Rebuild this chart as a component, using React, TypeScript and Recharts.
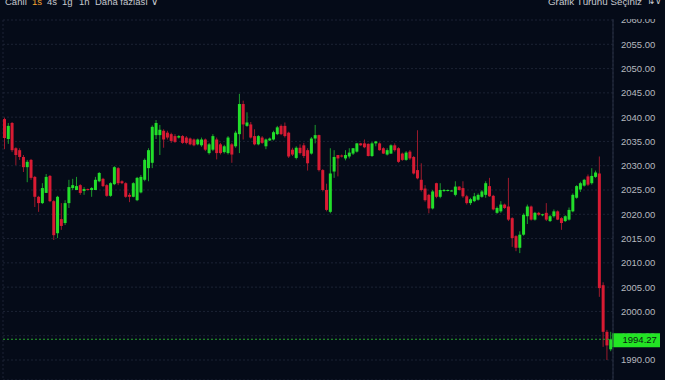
import React from 'react';
import { ComposedChart, Bar, XAxis, YAxis, CartesianGrid, ReferenceLine } from 'recharts';

const opens = [
  2039.6, 2035.5, 2038.8, 2033.6, 2033.2, 2031.8, 2029.7, 2031.2, 2027.7, 2023.6,
  2022.3, 2024.4, 2027.9, 2022.7, 2016.1, 2019.0, 2018.2, 2022.3, 2025.4, 2025.0,
  2026.0, 2024.8, 2025.2, 2025.0, 2025.0, 2026.8, 2027.3, 2026.0, 2023.8, 2026.2,
  2029.5, 2026.8, 2026.4, 2024.0, 2023.6, 2022.9, 2024.5, 2027.1, 2029.5, 2030.6,
  2036.3, 2036.3, 2037.2, 2036.8, 2036.5, 2036.1, 2035.8, 2036.1, 2035.8, 2035.6,
  2035.4, 2034.4, 2034.2, 2035.4, 2032.6, 2033.3, 2035.4, 2034.4, 2032.8, 2032.6,
  2034.4, 2034.0, 2036.5, 2042.7, 2038.2, 2038.5, 2036.1, 2034.4, 2035.8, 2034.0,
  2035.2, 2035.4, 2036.5, 2038.2, 2038.2, 2036.8, 2033.3, 2031.6, 2033.7, 2034.2,
  2033.2, 2032.5, 2035.6, 2036.3, 2029.1, 2025.0, 2020.5, 2028.8, 2032.2, 2032.1,
  2031.5, 2031.9, 2032.5, 2032.9, 2034.6, 2034.6, 2034.5, 2032.0, 2034.6, 2034.6,
  2033.6, 2032.3, 2032.5, 2034.2, 2033.6, 2032.5, 2031.2, 2032.9, 2031.8, 2029.1,
  2027.1, 2025.3, 2024.0, 2021.2, 2026.4, 2023.6, 2024.8, 2024.8, 2024.8, 2024.0,
  2025.7, 2025.4, 2023.7, 2022.3, 2022.7, 2023.0, 2023.6, 2024.0, 2025.8, 2023.8,
  2020.3, 2020.6, 2022.0, 2021.6, 2019.2, 2015.5, 2013.1, 2015.8, 2019.6, 2021.6,
  2018.9, 2020.3, 2019.8, 2020.3, 2018.6, 2019.6, 2020.6, 2019.2, 2018.6, 2018.9,
  2020.6, 2023.4, 2025.1, 2025.9, 2027.8, 2026.4, 2027.7, 2028.4, 2005.4, 1995.8,
  1992.2,
];

const highs = [
  2039.9, 2038.8, 2039.0, 2033.8, 2033.6, 2032.2, 2031.2, 2031.4, 2027.9, 2023.8,
  2026.4, 2028.3, 2028.1, 2022.9, 2023.8, 2022.3, 2022.9, 2027.1, 2027.3, 2027.7,
  2026.2, 2025.6, 2025.3, 2025.6, 2027.7, 2028.7, 2027.5, 2026.2, 2026.6, 2029.9,
  2029.7, 2027.0, 2026.6, 2024.4, 2026.6, 2027.7, 2028.1, 2031.5, 2033.6, 2038.3,
  2039.4, 2038.4, 2037.5, 2037.2, 2036.8, 2036.5, 2036.3, 2036.3, 2036.1, 2035.8,
  2035.6, 2035.6, 2035.8, 2035.6, 2034.7, 2036.5, 2035.8, 2034.7, 2034.3, 2036.1,
  2034.7, 2037.2, 2044.8, 2043.4, 2041.0, 2039.0, 2037.5, 2036.3, 2036.1, 2035.6,
  2035.8, 2037.2, 2038.2, 2038.5, 2038.9, 2037.0, 2033.7, 2034.0, 2034.4, 2034.7,
  2033.6, 2035.9, 2038.4, 2036.4, 2029.3, 2026.3, 2033.6, 2033.2, 2032.2, 2032.3,
  2033.2, 2033.6, 2033.6, 2034.7, 2034.7, 2035.4, 2034.6, 2034.9, 2035.1, 2034.8,
  2033.8, 2033.6, 2034.4, 2034.6, 2033.8, 2032.7, 2033.0, 2033.2, 2032.0, 2037.3,
  2030.5, 2026.0, 2024.2, 2025.0, 2026.5, 2026.4, 2025.2, 2025.1, 2025.0, 2026.8,
  2025.8, 2026.8, 2024.0, 2023.4, 2024.4, 2024.3, 2025.0, 2026.8, 2027.5, 2024.0,
  2021.6, 2022.7, 2022.2, 2027.5, 2019.4, 2015.7, 2016.5, 2020.2, 2022.0, 2021.8,
  2020.5, 2020.5, 2020.1, 2022.3, 2019.9, 2021.0, 2020.8, 2019.4, 2019.8, 2021.4,
  2024.3, 2026.0, 2026.7, 2027.3, 2028.2, 2029.5, 2029.0, 2031.9, 2006.0, 1996.2,
  1995.8,
];

const lows = [
  2033.4, 2034.5, 2032.8, 2030.1, 2031.2, 2028.7, 2026.6, 2027.1, 2021.5, 2020.5,
  2022.1, 2024.4, 2022.5, 2014.7, 2015.1, 2016.8, 2017.8, 2021.3, 2025.0, 2025.0,
  2024.0, 2024.0, 2024.9, 2023.6, 2025.0, 2026.6, 2025.6, 2023.6, 2023.6, 2026.0,
  2026.0, 2026.2, 2023.4, 2022.5, 2023.5, 2022.7, 2024.3, 2026.8, 2026.8, 2029.5,
  2035.5, 2032.2, 2033.7, 2035.4, 2034.7, 2034.7, 2035.6, 2034.5, 2034.4, 2034.2,
  2034.0, 2034.2, 2033.9, 2033.0, 2032.3, 2033.0, 2031.3, 2032.3, 2032.5, 2032.3,
  2030.6, 2033.7, 2032.6, 2035.4, 2038.0, 2035.6, 2034.2, 2034.2, 2034.5, 2033.4,
  2035.1, 2035.2, 2036.3, 2036.3, 2035.8, 2031.6, 2032.0, 2031.3, 2032.3, 2031.6,
  2029.0, 2032.3, 2034.6, 2028.8, 2024.7, 2020.6, 2020.2, 2027.5, 2027.8, 2031.7,
  2031.1, 2031.5, 2032.2, 2032.7, 2034.1, 2033.6, 2031.9, 2031.8, 2034.0, 2033.1,
  2032.4, 2032.1, 2032.4, 2032.9, 2030.6, 2031.0, 2031.0, 2031.2, 2028.2, 2027.2,
  2024.7, 2022.6, 2020.2, 2021.0, 2023.3, 2023.3, 2024.6, 2024.7, 2024.7, 2023.7,
  2024.9, 2023.4, 2022.0, 2021.9, 2022.5, 2022.8, 2023.4, 2023.4, 2023.6, 2020.8,
  2020.1, 2020.3, 2021.1, 2018.6, 2013.3, 2012.4, 2012.0, 2015.6, 2018.0, 2018.7,
  2018.7, 2019.7, 2019.6, 2018.6, 2018.4, 2019.3, 2018.8, 2016.8, 2018.4, 2018.7,
  2020.4, 2023.2, 2024.6, 2025.7, 2025.8, 2026.1, 2027.5, 2003.0, 1992.7, 1990.0,
  1991.8,
];

const closes = [
  2035.7, 2038.2, 2033.2, 2032.2, 2031.8, 2029.7, 2030.8, 2027.5, 2023.6, 2022.3,
  2025.4, 2027.7, 2022.7, 2015.7, 2023.6, 2017.6, 2022.3, 2025.6, 2026.0, 2025.8,
  2024.4, 2025.2, 2025.0, 2025.4, 2027.1, 2028.5, 2025.8, 2023.8, 2026.4, 2029.7,
  2026.4, 2026.4, 2023.6, 2023.6, 2026.4, 2027.5, 2027.7, 2031.2, 2033.2, 2038.0,
  2038.8, 2037.4, 2035.4, 2035.8, 2035.1, 2034.9, 2036.1, 2034.7, 2034.7, 2034.4,
  2034.2, 2035.4, 2035.4, 2033.3, 2034.4, 2036.1, 2032.6, 2032.6, 2034.0, 2035.8,
  2032.3, 2036.8, 2042.7, 2038.5, 2038.9, 2035.8, 2034.4, 2036.1, 2034.7, 2035.4,
  2035.6, 2036.9, 2037.9, 2036.5, 2036.1, 2031.9, 2032.3, 2033.7, 2032.6, 2032.0,
  2030.5, 2035.6, 2036.3, 2029.1, 2025.0, 2020.9, 2028.4, 2031.8, 2031.5, 2031.9,
  2032.2, 2032.7, 2033.6, 2034.6, 2034.2, 2033.8, 2032.0, 2034.6, 2035.0, 2033.2,
  2032.5, 2033.2, 2034.2, 2033.2, 2030.8, 2031.2, 2032.7, 2031.5, 2028.4, 2027.4,
  2025.0, 2022.9, 2021.2, 2024.7, 2023.6, 2025.0, 2025.0, 2025.0, 2024.9, 2025.7,
  2025.0, 2023.7, 2022.3, 2023.1, 2023.7, 2024.0, 2024.7, 2026.4, 2023.7, 2021.0,
  2021.3, 2022.0, 2021.3, 2018.9, 2015.1, 2013.1, 2015.8, 2019.9, 2021.6, 2018.9,
  2020.3, 2019.9, 2020.0, 2018.9, 2019.6, 2020.6, 2018.9, 2018.2, 2019.6, 2020.9,
  2024.0, 2025.8, 2026.4, 2027.1, 2026.1, 2027.9, 2028.6, 2004.8, 1995.8, 1993.0,
  1994.27,
];

const yTicks = [1990, 1995, 2000, 2005, 2010, 2015, 2020, 2025, 2030, 2035, 2040, 2045, 2050, 2055, 2060];
const gridTicks = [20.9, 44.95, 69, 93.05, 117.1, 141.1, 159.2];
const lastPrice = 1994.27;
const leftMenu = ['Canlı', '1s', '4s', '1g', '1h', 'Daha fazlası'];
const rightMenu = 'Grafik Türünü Seçiniz';

const Y_MIN = 1985.88;
const Y_MAX = 2064.12;
const CHART_W = 665;
const CHART_H = 380;

const data = opens.map((o, i) => ({
  i,
  open: o,
  high: highs[i],
  low: lows[i],
  close: closes[i],
  range: [lows[i], highs[i]],
}));

const BG = '#050b18';
const UP = '#22de2a';
const DOWN = '#d81b33';
const UP_WICK = '#1c9a2c';
const DOWN_WICK = '#9c1a2c';
const FONT = 'Liberation Sans, Arial, sans-serif';

const Candle = (props: any) => {
  const { x, y, width, height, payload } = props;
  if (!payload) return null;
  const { open, close, high, low } = payload;
  const top = Math.min(y, y + height);
  const h = Math.abs(height);
  const ratio = high - low > 0 ? h / (high - low) : 0;
  const yOf = (v: number) => top + (high - v) * ratio;
  const cx = x + width / 2;
  const up = close >= open;
  const bTop = yOf(Math.max(open, close));
  const bBot = yOf(Math.min(open, close));
  return (
    <g>
      <line x1={cx} x2={cx} y1={top} y2={top + h} stroke={up ? UP_WICK : DOWN_WICK} strokeWidth={1} />
      <rect x={cx - 1.5} y={bTop} width={3} height={Math.max(1, bBot - bTop)} fill={up ? UP : DOWN} />
    </g>
  );
};

const TAG_ABOVE = 6;
const TAG_H = 14;

const PriceTag = (props: any) => {
  const vb = props.viewBox || {};
  const x = (vb.x || 0) + (vb.width || 0);
  const y = vb.y || 0;
  return (
    <g>
      <rect x={x - 1} y={y - TAG_ABOVE} width={48} height={TAG_H} fill="#23e524" />
      <text x={x + 9.5} y={y + 4.2} fontSize={9.5} fill="#0a1a12" fontFamily={FONT}>
        {lastPrice.toFixed(2)}
      </text>
    </g>
  );
};

const AxisTick = (props: any) => {
  const { x, y, payload } = props;
  const v: number = payload.value;
  const pxPerUnit = CHART_H / (Y_MAX - Y_MIN);
  const tagTop = y + (v - lastPrice) * pxPerUnit - TAG_ABOVE;
  const covered = y + 5 > tagTop && y - 5 < tagTop + TAG_H;
  const id = `tick-clip-${v}`;
  return (
    <g>
      {covered && (
        <defs>
          <clipPath id={id}>
            <rect x={x - 5} y={y - 20} width={80} height={Math.max(0, tagTop - (y - 20))} />
          </clipPath>
        </defs>
      )}
      <text
        x={x}
        y={y}
        dy="0.355em"
        textAnchor="start"
        fill="#b5b8bf"
        fontSize={9.5}
        fontFamily={FONT}
        clipPath={covered ? `url(#${id})` : undefined}
      >
        {v.toFixed(2)}
      </text>
    </g>
  );
};

const menuStyle: React.CSSProperties = {
  position: 'absolute',
  top: -4,
  fontSize: 9.5,
  lineHeight: '11px',
  fontFamily: FONT,
  color: '#c6c9cf',
  whiteSpace: 'nowrap',
};

const leftPos = [5, 32, 47, 62, 79, 95];

export default function App() {
  return (
    <div style={{ position: 'fixed', left: 0, top: 0, width: 675, height: 380, background: '#ffffff', overflow: 'hidden' }}>
      <div style={{ position: 'absolute', left: 0, top: 0, width: CHART_W, height: CHART_H, background: BG }}>
        <ComposedChart
          width={CHART_W}
          height={CHART_H}
          data={data}
          margin={{ top: 0, right: 0, bottom: 0, left: 3 }}
        >
          <CartesianGrid stroke="#1c2334" strokeDasharray="2 2" horizontal={true} vertical={true} />
          <XAxis
            type="number"
            dataKey="i"
            domain={[-0.5, 160.5]}
            ticks={gridTicks}
            height={0}
            tick={false}
            axisLine={false}
            tickLine={false}
            allowDataOverflow
          />
          <YAxis
            orientation="right"
            width={52}
            domain={[Y_MIN, Y_MAX]}
            ticks={yTicks}
            allowDataOverflow
            interval={0}
            tickLine={false}
            axisLine={{ stroke: '#283042' }}
            tick={<AxisTick />}
          />
          <Bar dataKey="range" barSize={3} shape={<Candle />} isAnimationActive={false} />
          <ReferenceLine
            y={lastPrice}
            stroke="#2aa52e"
            strokeDasharray="2 2"
            label={<PriceTag />}
          />
        </ComposedChart>
      </div>
      <div style={{ position: 'absolute', left: 0, top: 0, width: CHART_W, height: 19, background: BG, overflow: 'hidden' }}>
        {leftMenu.map((t, k) => (
          <span key={t} style={{ ...menuStyle, left: leftPos[k], color: k === 1 ? '#f2a431' : '#c6c9cf' }}>{t}</span>
        ))}
        <span style={{ ...menuStyle, left: 151, fontSize: 10 }}>∨</span>
        <span style={{ ...menuStyle, left: 548, fontSize: 9.8 }}>{rightMenu}</span>
        <span style={{ ...menuStyle, left: 647, fontSize: 8.5 }}>⇅∨</span>
      </div>
    </div>
  );
}
